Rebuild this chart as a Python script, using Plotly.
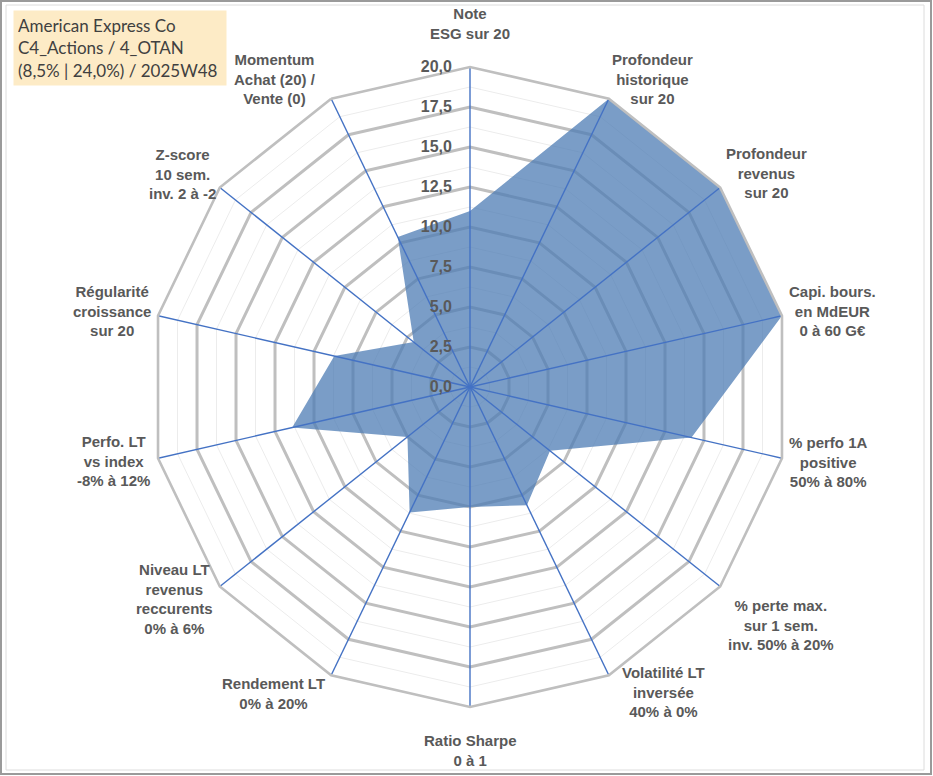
import plotly.graph_objects as go

categories = [
    "Note<br>ESG sur 20",
    "Profondeur<br>historique<br>sur 20",
    "Profondeur<br>revenus<br>sur 20",
    "Capi. bours.<br>en MdEUR<br>0 à 60 G€",
    "% perfo 1A<br>positive<br>50% à 80%",
    "% perte max.<br>sur 1 sem.<br>inv. 50% à 20%",
    "Volatilité LT<br>inversée<br>40% à 0%",
    "Ratio Sharpe<br>0 à 1",
    "Rendement LT<br>0% à 20%",
    "Niveau LT<br>revenus<br>reccurents<br>0% à 6%",
    "Perfo. LT<br>vs index<br>-8% à 12%",
    "Régularité<br>croissance<br>sur 20",
    "Z-score<br>10 sem.<br>inv. 2 à -2",
    "Momentum<br>Achat (20) /<br>Vente (0)",
]
scores = [11.0, 20.0, 20.0, 20.0, 14.2, 6.4, 8.2, 7.5, 8.7, 5.0, 11.4, 8.7, 4.5, 10.4]
radial_ticks = [0.0, 2.5, 5.0, 7.5, 10.0, 12.5, 15.0, 17.5, 20.0]
minor_levels = [1.25, 3.75, 6.25, 8.75, 11.25, 13.75, 16.25, 18.75]
title_lines = ["American Express Co", "C4_Actions / 4_OTAN", "(8,5% | 24,0%) / 2025W48"]

# label placement (layout, not data): centre of each category label block, in pixels
label_x = [470, 652, 766, 832, 828, 781, 663, 470, 273, 174, 113, 112, 182, 275]
label_y = [23.5, 79, 173, 311, 462, 625, 692, 750, 693, 598.5, 461, 311, 174, 79]

R_MAX = 20.0
theta_closed = categories + [categories[0]]

fig = go.Figure()

# minor grid polygons
for lv in minor_levels:
    fig.add_trace(go.Scatterpolar(
        r=[lv] * len(theta_closed), theta=theta_closed, mode="lines",
        line=dict(color="#ececec", width=1), hoverinfo="skip", showlegend=False))

# filled series
fig.add_trace(go.Scatterpolar(
    r=scores + [scores[0]], theta=theta_closed, mode="lines", fill="toself",
    fillcolor="rgba(78,124,180,0.75)", line=dict(color="rgba(78,124,180,0)", width=0),
    showlegend=False, name="Score"))

# spokes above the fill
for c in categories:
    fig.add_trace(go.Scatterpolar(
        r=[0, R_MAX], theta=[c, c], mode="lines",
        line=dict(color="#4472C4", width=1.4), hoverinfo="skip", showlegend=False))

W, H = 933, 776
cx, cy, rad = 470, 387, 320

annotations = [dict(
    text="<br>".join(title_lines), xref="paper", yref="paper",
    x=13 / W, y=1 - 10 / H, xanchor="left", yanchor="top", align="left",
    showarrow=False, bgcolor="#FDEBC6", borderpad=4, width=204, height=66,
    font=dict(family="Lato, Open Sans, sans-serif", size=17, color="#404040"),
)]
for txt, lx, ly in zip(categories, label_x, label_y):
    annotations.append(dict(
        text=txt, xref="paper", yref="paper", x=lx / W, y=1 - ly / H,
        xanchor="center", yanchor="middle", align="center", showarrow=False,
        font=dict(size=15, color="#595959", family="Liberation Sans, Arial, sans-serif", weight="bold")))

fig.update_layout(
    width=W, height=H,
    margin=dict(l=0, r=0, t=0, b=0),
    paper_bgcolor="white",
    separators=", ",
    font=dict(family="Liberation Sans, Arial, sans-serif", color="#595959"),
    polar=dict(
        domain=dict(x=[(cx - rad) / W, (cx + rad) / W], y=[1 - (cy + rad) / H, 1 - (cy - rad) / H]),
        bgcolor="rgba(0,0,0,0)",
        gridshape="linear",
        angularaxis=dict(
            direction="clockwise", rotation=90, categoryorder="array", categoryarray=categories,
            showline=True, linecolor="#bfbfbf", linewidth=2.6,
            showgrid=False, ticks="", showticklabels=False,
        ),
        radialaxis=dict(
            range=[0, R_MAX], tickvals=radial_ticks, tickformat=".1f", angle=90, tickangle=90,
            side="counterclockwise", showline=False, ticks="outside", ticklen=12,
            tickcolor="rgba(0,0,0,0)",
            gridcolor="#bfbfbf", gridwidth=2.6,
            tickfont=dict(size=16, color="#595959", family="Liberation Sans, Arial, sans-serif", weight="bold"),
        ),
    ),
    annotations=annotations,
    shapes=[
        dict(type="rect", xref="paper", yref="paper", x0=1 / W, x1=931 / W, y0=1 - 774 / H, y1=1 - 1 / H,
             line=dict(color="#9a9a9a", width=2)),
        dict(type="rect", xref="paper", yref="paper", x0=6 / W, x1=924 / W, y0=1 - 770 / H, y1=1 - 5 / H,
             line=dict(color="#dcdcdc", width=1)),
    ],
)

fig.write_html("out.html", config={"displayModeBar": False},
               post_script="document.body.style.margin='0';document.body.style.overflow='hidden';")
